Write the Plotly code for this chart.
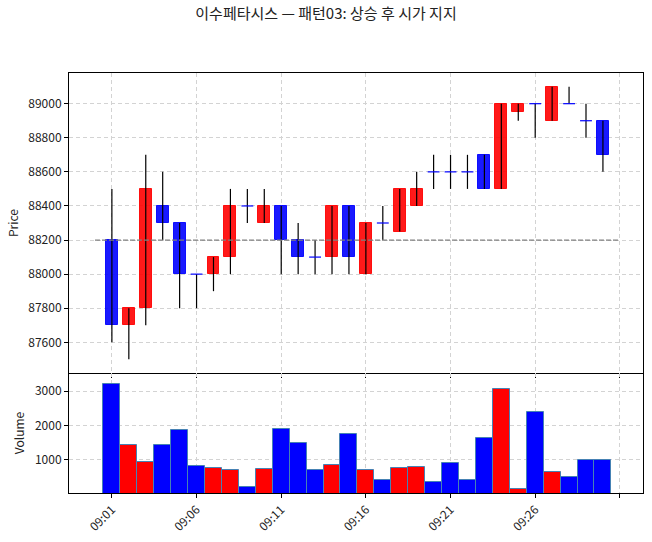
import pandas as pd
import plotly.graph_objects as go
from plotly.subplots import make_subplots

# 1-minute bars
times = ["09:01", "09:02", "09:03", "09:04", "09:05", "09:06", "09:07", "09:08", "09:09", "09:10",
         "09:11", "09:12", "09:13", "09:14", "09:15", "09:16", "09:17", "09:18", "09:19", "09:20",
         "09:21", "09:22", "09:23", "09:24", "09:25", "09:26", "09:27", "09:28", "09:29", "09:30"]
opens = [88200, 87700, 87800, 88400, 88300, 88000, 88000, 88100, 88400, 88300,
         88400, 88200, 88100, 88100, 88400, 88000, 88300, 88250, 88400, 88600,
         88600, 88600, 88700, 88500, 88950, 89000, 88900, 89000, 88900, 88900]
highs = [88500, 87800, 88700, 88600, 88300, 88000, 88100, 88500, 88500, 88500,
         88400, 88300, 88200, 88400, 88400, 88300, 88400, 88500, 88600, 88700,
         88700, 88700, 88700, 89000, 89000, 89000, 89100, 89100, 89000, 88900]
lows = [87600, 87500, 87700, 88200, 87800, 87800, 87900, 88000, 88300, 88300,
        88000, 88000, 88000, 88000, 88000, 88000, 88200, 88250, 88400, 88500,
        88500, 88500, 88500, 88500, 88900, 88800, 88900, 89000, 88800, 88600]
closes = [87700, 87800, 88500, 88300, 88000, 88000, 88100, 88400, 88400, 88400,
          88200, 88100, 88100, 88400, 88100, 88300, 88300, 88500, 88500, 88600,
          88600, 88600, 88500, 89000, 89000, 89000, 89100, 89000, 88900, 88700]
volumes = [3200, 1430, 940, 1430, 1870, 830, 770, 710, 210, 740,
           1900, 1500, 710, 860, 1760, 710, 420, 770, 800, 360,
           910, 420, 1640, 3060, 150, 2400, 650, 510, 1000, 1000]
open_price = 88200  # 시가 기준선
tick_times = ["09:01", "09:06", "09:11", "09:16", "09:21", "09:26", "09:31"]
tick_labels = ["09:01", "09:06", "09:11", "09:16", "09:21", "09:26", ""]

title = "이수페타시스 — 패턴03: 상승 후 시가 지지"
FONT = "Noto Sans CJK KR"

day = "2024-01-02 "
x = pd.to_datetime([day + t for t in times])
minute = pd.Timedelta(minutes=1)
half_body = pd.Timedelta(seconds=21)

up = [c > o for o, c in zip(opens, closes)]
colors = ["#ff0000" if u else "#0000ff" for u in up]
body_colors = ["rgba(255,0,0,0.9)" if u else "rgba(0,0,255,0.9)" for u in up]

fig = make_subplots(rows=2, cols=1, shared_xaxes=True, vertical_spacing=0,
                    row_heights=[300, 120])

# wicks
wx, wy = [], []
for t, h, l in zip(x, highs, lows):
    wx += [t, t, None]
    wy += [l, h, None]
fig.add_trace(go.Scatter(x=wx, y=wy, mode="lines", line=dict(color="black", width=1.2),
                         showlegend=False, hoverinfo="skip"), row=1, col=1)

# bodies
bx, bbase, bh, bc = [], [], [], []
for t, o, c, col in zip(x, opens, closes, body_colors):
    if o != c:
        bx.append(t)
        bbase.append(min(o, c))
        bh.append(abs(c - o))
        bc.append(col)
fig.add_trace(go.Bar(x=bx, y=bh, base=bbase, width=42000,
                     marker=dict(color=bc, line=dict(color=bc, width=1)),
                     showlegend=False), row=1, col=1)

# doji (open == close)
dx, dy = [], []
for t, o, c in zip(x, opens, closes):
    if o == c:
        dx += [t - half_body, t + half_body, None]
        dy += [o, o, None]
fig.add_trace(go.Scatter(x=dx, y=dy, mode="lines", line=dict(color="#0000ff", width=1.2),
                         showlegend=False, hoverinfo="skip"), row=1, col=1)

# reference open line
fig.add_trace(go.Scatter(x=[x[0] - minute, x[-1] + minute], y=[open_price, open_price],
                         mode="lines", line=dict(color="gray", width=1.2, dash="5px,2px"),
                         showlegend=False, hoverinfo="skip"), row=1, col=1)

# volume
fig.add_trace(go.Bar(x=x, y=volumes, width=60000,
                     marker=dict(color=colors, line=dict(color="#4682b4", width=1)),
                     showlegend=False), row=2, col=1)

xr = [pd.Timestamp(day + "08:58:28"), pd.Timestamp(day + "09:32:22")]
tickvals = pd.to_datetime([day + t for t in tick_times])

axis_common = dict(showline=True, linecolor="black", linewidth=1, mirror=True,
                   showgrid=True, gridcolor="#d3d3d3", griddash="4px,3px", gridwidth=1,
                   ticks="outside", ticklen=4, tickcolor="black", zeroline=False,
                   automargin=False,
                   tickfont=dict(family=FONT, size=12, color="#222"))

fig.update_xaxes(**axis_common, range=xr, tickvals=tickvals, ticktext=tick_labels)
fig.update_xaxes(showticklabels=False, row=1, col=1)
fig.update_xaxes(tickangle=-45, mirror=False, row=2, col=1)
fig.update_yaxes(**axis_common, tickformat="d")
fig.update_yaxes(range=[87420, 89180], dtick=200, tick0=87600,
                 title=dict(text="Price", font=dict(family=FONT, size=12, color="#222"), standoff=7),
                 row=1, col=1)
fig.update_yaxes(range=[40, 3530], tickvals=[1000, 2000, 3000],
                 title=dict(text="Volume", font=dict(family=FONT, size=12, color="#222"), standoff=7),
                 row=2, col=1)

fig.update_layout(
    width=652, height=542,
    margin=dict(l=69, r=9, t=73, b=49),
    plot_bgcolor="white", paper_bgcolor="white",
    barmode="overlay", bargap=0,
    title=dict(text=title, x=0.5, xanchor="center", y=1 - 14 / 542, yanchor="middle",
               yref="container", font=dict(family=FONT, size=15, color="#222")),
    font=dict(family=FONT),
)

fig.write_html("out.html", config={"displayModeBar": False},
               post_script="document.body.style.margin='0';")
